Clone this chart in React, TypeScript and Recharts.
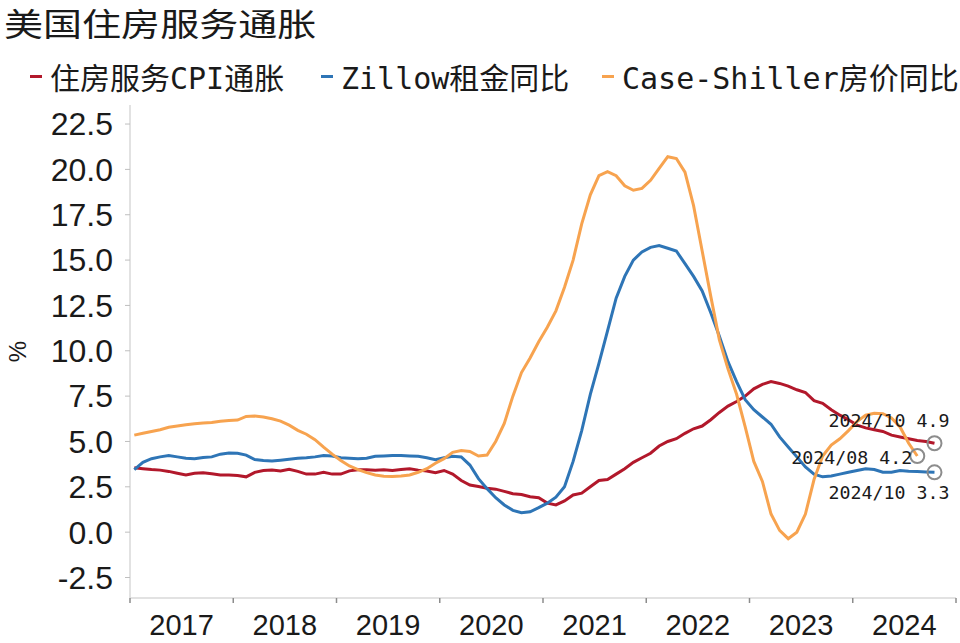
import React from 'react';
import { LineChart, Line, XAxis, YAxis, ReferenceDot } from 'recharts';

const startYear = 2017;
const years = ['2017', '2018', '2019', '2020', '2021', '2022', '2023', '2024'];

// 住房服务CPI通胀 (2017-01 .. 2024-10)
const cpi = [
  3.55, 3.5, 3.45, 3.42, 3.35, 3.25, 3.15, 3.25, 3.28, 3.22, 3.15, 3.15,
  3.12, 3.05, 3.3, 3.4, 3.42, 3.37, 3.47, 3.35, 3.2, 3.2, 3.3, 3.2,
  3.2, 3.38, 3.44, 3.44, 3.42, 3.44, 3.4, 3.45, 3.5, 3.42, 3.37, 3.28,
  3.4, 3.2, 2.85, 2.6, 2.52, 2.42, 2.37, 2.25, 2.12, 2.08, 1.95, 1.9,
  1.6, 1.5, 1.72, 2.05, 2.15, 2.5, 2.85, 2.9, 3.2, 3.5, 3.85, 4.1,
  4.35, 4.75, 5.0, 5.15, 5.45, 5.7, 5.85, 6.2, 6.6, 6.95, 7.2, 7.5,
  7.9, 8.15, 8.3, 8.2, 8.05, 7.85, 7.7, 7.25, 7.1, 6.75, 6.45, 6.2,
  5.9, 5.75, 5.65, 5.55, 5.35, 5.25, 5.15, 5.05, 5.0, 4.9,
];

// Zillow租金同比 (2017-01 .. 2024-10)
const zillow = [
  3.45, 3.85, 4.05, 4.15, 4.22, 4.15, 4.08, 4.05, 4.12, 4.15, 4.3, 4.36,
  4.35, 4.25, 4.0, 3.95, 3.92, 3.97, 4.02, 4.08, 4.1, 4.15, 4.22, 4.2,
  4.1, 4.08, 4.05, 4.08, 4.18, 4.2, 4.22, 4.23, 4.2, 4.18, 4.1, 4.0,
  4.1, 4.18, 4.15, 3.7, 2.95, 2.4, 1.9, 1.5, 1.2, 1.07, 1.12, 1.35,
  1.6, 1.93, 2.5, 3.9, 5.6, 7.6, 9.3, 11.1, 12.9, 14.1, 15.0, 15.45,
  15.7, 15.8, 15.65, 15.5, 14.8, 14.1, 13.3, 12.1, 10.8, 9.4, 8.3, 7.3,
  6.75, 6.35, 5.95, 5.25, 4.7, 4.15, 3.6, 3.2, 3.05, 3.1, 3.2, 3.3,
  3.4, 3.5, 3.45, 3.3, 3.3, 3.4, 3.36, 3.34, 3.32, 3.3,
];

// Case-Shiller房价同比 (2017-01 .. 2024-08)
const caseShiller = [
  5.35, 5.45, 5.55, 5.65, 5.78, 5.85, 5.92, 5.98, 6.02, 6.05, 6.12, 6.16,
  6.18, 6.38, 6.4, 6.35, 6.25, 6.12, 5.9, 5.61, 5.4, 5.1, 4.69, 4.3,
  3.95, 3.65, 3.45, 3.28, 3.15, 3.08, 3.07, 3.1, 3.15, 3.3, 3.5, 3.8,
  4.05, 4.4, 4.5, 4.45, 4.2, 4.25, 5.0, 6.0, 7.5, 8.8, 9.6, 10.5,
  11.3, 12.2, 13.5, 15.0, 17.0, 18.6, 19.65, 19.87, 19.65, 19.1, 18.85, 18.95,
  19.4, 20.05, 20.7, 20.6, 19.85, 18.0, 15.5, 13.0, 10.6, 9.0, 7.6, 5.8,
  3.9, 2.8, 1.0, 0.1, -0.36, 0.0, 1.0, 2.9, 4.2, 4.8, 5.15, 5.6,
  6.1, 6.45, 6.55, 6.53, 6.3, 5.8, 4.9, 4.2,
];

const yTicks = [-2.5, 0, 2.5, 5, 7.5, 10, 12.5, 15, 17.5, 20, 22.5];

const series = [
  { key: 'cpi', name: '住房服务CPI通胀', color: '#b2182b', values: cpi },
  { key: 'zillow', name: 'Zillow租金同比', color: '#2e75b6', values: zillow },
  { key: 'cs', name: 'Case-Shiller房价同比', color: '#f7a34f', values: caseShiller },
];
const legendLeft = [30, 321, 602];

const monthLabel = (i: number) => {
  const y = startYear + Math.floor(i / 12);
  const m = (i % 12) + 1;
  return `${y}/${m < 10 ? '0' + m : m}`;
};

const data = cpi.map((v, i) => ({
  i,
  month: monthLabel(i),
  cpi: v,
  zillow: zillow[i],
  cs: i < caseShiller.length ? caseShiller[i] : null,
}));

const boundaries = years.map((_, k) => k * 12 - 0.5).concat([years.length * 12 - 0.5]);
const centers = years.map((_, k) => k * 12 + 5.5);
const xTicks = [...boundaries, ...centers].sort((a, b) => a - b);

const XTick = (props: any) => {
  const { x, y, payload } = props;
  const v = payload.value;
  const ci = centers.indexOf(v);
  if (ci >= 0) {
    return (
      <text x={x} y={y + 16} dy="0.71em" textAnchor="middle" fontSize={29}
        fontFamily="'Liberation Sans', Arial, sans-serif" fill="#1a1a1a">
        {years[ci]}
      </text>
    );
  }
  return <line x1={x} x2={x} y1={y} y2={y + 5} stroke="#8c8c8c" strokeWidth={1.5} />;
};

const lastIdx = (arr: number[]) => arr.length - 1;

const makeMarker = (dx: number, dy: number) => (props: any) => {
  const { cx, cy, text } = props;
  return (
    <g>
      <circle cx={cx} cy={cy} r={7} fill="none" stroke="#8c8c8c" strokeWidth={2} />
      <text x={cx + dx} y={cy + dy} textAnchor="end" fontSize={18.3}
        fontFamily="'DejaVu Sans Mono', monospace" fill="#1a1a1a">{text}</text>
    </g>
  );
};

const annotations = [
  { idx: lastIdx(cpi), value: cpi[lastIdx(cpi)], dx: 15, dy: -16.6 },
  { idx: lastIdx(caseShiller), value: caseShiller[lastIdx(caseShiller)], dx: -5, dy: 7.7 },
  { idx: lastIdx(zillow), value: zillow[lastIdx(zillow)], dx: 15, dy: 27 },
];

export default function App() {
  return (
    <div style={{ position: 'absolute', left: 0, top: 0, width: 960, height: 643, background: '#fff' }}>
      <div style={{
        position: 'absolute', left: 4, top: 0, fontSize: 32, lineHeight: '44px',
        fontFamily: "'Noto Sans CJK SC', sans-serif", color: '#1a1a1a',
        transform: 'scaleX(1.22)', transformOrigin: 'left top', whiteSpace: 'nowrap',
      }}>美国住房服务通胀</div>
      {series.map((s, k) => (
        <div key={s.key} style={{
          position: 'absolute', left: legendLeft[k], top: 56, height: 40, display: 'flex', alignItems: 'center',
          fontSize: 30, fontFamily: "'DejaVu Sans Mono', 'Noto Sans CJK SC', monospace",
          color: '#1a1a1a', whiteSpace: 'nowrap',
        }}>
          <span style={{ display: 'inline-block', width: 12, height: 3, background: s.color, marginRight: 8 }} />
          <span>{s.name}</span>
        </div>
      ))}
      <LineChart width={960} height={643} data={data}
        margin={{ top: 105, right: 4, bottom: 5, left: 0 }}>
        <XAxis dataKey="i" type="number" domain={[-0.5, 95.5]} ticks={xTicks}
          interval={0} tick={<XTick />} tickLine={false} tickSize={0} tickMargin={0}
          axisLine={{ stroke: '#d9d9d9', strokeWidth: 1.5 }} height={40} allowDataOverflow />
        <YAxis type="number" domain={[-3.63, 23.55]} ticks={yTicks} interval={0} width={130}
          tickFormatter={(v: number) => v.toFixed(1)} tickSize={5} tickMargin={12}
          tick={{ fontSize: 32, fill: '#1a1a1a', fontFamily: "'Liberation Sans', Arial, sans-serif" }}
          tickLine={{ stroke: '#bfbfbf' }} axisLine={{ stroke: '#d9d9d9', strokeWidth: 1.5 }}
          allowDataOverflow
          label={{
            content: (p: any) => {
              const vb = p.viewBox;
              const cx = 17;
              const cy = vb.y + vb.height / 2;
              return (
                <text x={cx} y={cy} transform={`rotate(-90, ${cx}, ${cy})`} textAnchor="middle"
                  dominantBaseline="central" fontSize={24} fill="#1a1a1a"
                  fontFamily="'Liberation Sans', Arial, sans-serif">%</text>
              );
            },
          }} />
        {series.map((s) => (
          <Line key={s.key} dataKey={s.key} name={s.name} type="linear" stroke={s.color}
            strokeWidth={3} dot={false} isAnimationActive={false} connectNulls={false} />
        ))}
        {annotations.map((a, k) => (
          <ReferenceDot key={k} x={a.idx} y={a.value} r={7}
            shape={(p: any) => makeMarker(a.dx, a.dy)({ ...p, text: `${monthLabel(a.idx)} ${a.value.toFixed(1)}` })} />
        ))}
      </LineChart>
    </div>
  );
}
